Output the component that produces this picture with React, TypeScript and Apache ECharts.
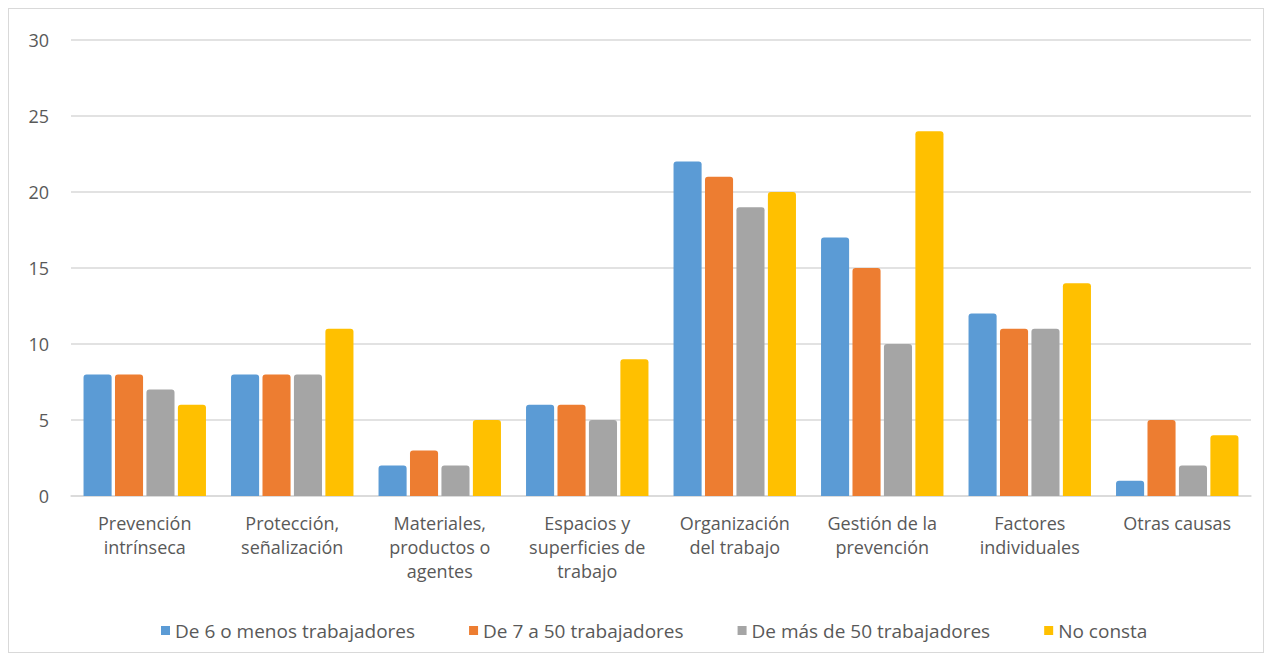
import React, { useEffect, useRef } from "react";
import * as echarts from "echarts";

const categories = [
  "Prevención\nintrínseca",
  "Protección,\nseñalización",
  "Materiales,\nproductos o\nagentes",
  "Espacios y\nsuperficies de\ntrabajo",
  "Organización\ndel trabajo",
  "Gestión de la\nprevención",
  "Factores\nindividuales",
  "Otras causas",
];

const seriesNames = [
  "De 6 o menos trabajadores",
  "De 7 a 50 trabajadores",
  "De más de 50 trabajadores",
  "No consta",
];

const valuesSmall = [8, 8, 2, 6, 22, 17, 12, 1];
const valuesMedium = [8, 8, 3, 6, 21, 15, 11, 5];
const valuesLarge = [7, 8, 2, 5, 19, 10, 11, 2];
const valuesUnknown = [6, 11, 5, 9, 20, 24, 14, 4];

const yTicks = { min: 0, max: 30, interval: 5 };

const colors = ["#5b9bd5", "#ed7d31", "#a5a5a5", "#ffc000"];

export default function App() {
  const ref = useRef<HTMLDivElement>(null);
  useEffect(() => {
    if (!ref.current) return;
    const chart = echarts.init(ref.current, null, { renderer: "svg" });
    const data = [valuesSmall, valuesMedium, valuesLarge, valuesUnknown];
    chart.setOption({
      animation: false,
      textStyle: { fontFamily: "Open Sans" },
      grid: { left: 62, right: 12, top: 31, bottom: 156 },
      legend: {
        bottom: 7,
        left: 147,
        itemWidth: 9,
        itemHeight: 9,
        itemGap: 54,
        icon: "rect",
        textStyle: { fontSize: 19, color: "#595959", fontFamily: "Open Sans" },
        data: seriesNames,
      },
      xAxis: {
        type: "category",
        data: categories,
        axisLine: { lineStyle: { color: "#d9d9d9", width: 1.5 } },
        axisTick: { show: false },
        axisLabel: {
          fontSize: 18,
          color: "#595959",
          lineHeight: 24,
          margin: 15,
          interval: 0,
        },
      },
      yAxis: {
        type: "value",
        min: yTicks.min,
        max: yTicks.max,
        interval: yTicks.interval,
        axisLine: { show: false },
        axisTick: { show: false },
        axisLabel: { fontSize: 18, color: "#595959", margin: 22 },
        splitLine: { lineStyle: { color: "#d9d9d9", width: 1.5 } },
      },
      series: seriesNames.map((name, i) => ({
        name,
        type: "bar",
        data: data[i],
        barGap: "12%",
        barCategoryGap: "17%",
        itemStyle: {
          borderRadius: [3, 3, 0, 0],
          color: colors[i],
        },
      })),
      color: colors,
    });
    return () => chart.dispose();
  }, []);
  return (
    <div
      ref={ref}
      style={{
        width: 1256,
        height: 645,
        border: "1px solid #d9d9d9",
        boxSizing: "border-box",
        background: "#fff",
      }}
    />
  );
}
